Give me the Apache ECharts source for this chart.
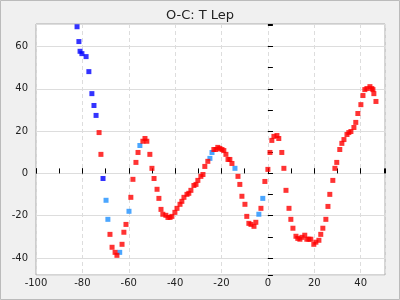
<!DOCTYPE html>
<html>
<head>
<meta charset="utf-8">
<script src="https://cdn.jsdelivr.net/npm/echarts@6/dist/echarts.min.js"></script>
<style>html,body{margin:0;padding:0;background:#f0f0f0}#c{width:400px;height:300px}</style>
</head>
<body>
<div id="c"></div>
<script>
var titleText = 'O-C: T Lep';
var xMin = -100, xMax = 50.5;
var yMin = -48, yMax = 70.6;

var bluePoints = [
  [-82.3, 69.3], [-81.5, 62.3], [-81.0, 57.7], [-80.2, 56.6], [-78.4, 55.2],
  [-77.2, 48.1], [-75.9, 37.7], [-75.0, 32.1], [-74.1, 27.4], [-71.1, -2.4]
];

var lightBluePoints = [
  [-69.8, -12.7], [-69.0, -21.7], [-63.9, -37.3], [-59.9, -17.9], [-55.2, 13.2],
  [-25.0, 7.1], [-24.1, 9.9], [-14.2, 2.4], [-3.9, -19.3], [-2.2, -11.8]
];

var redPoints = [
  [-72.8, 19.3], [-72.0, 9.0], [-68.1, -28.8], [-67.2, -34.9], [-65.9, -37.3],
  [-65.1, -38.7], [-62.9, -33.5], [-62.1, -27.8], [-61.2, -24.1], [-59.1, -11.3],
  [-58.2, -2.8], [-56.9, 5.2], [-56.0, 9.9], [-53.9, 15.2], [-53.0, 16.5],
  [-52.2, 15.2], [-50.9, 9.0], [-50.0, 2.4], [-49.1, -2.4], [-47.8, -7.5],
  [-47.0, -11.8], [-46.1, -17.0], [-45.3, -19.3], [-44.0, -19.8], [-43.1, -20.8],
  [-42.2, -20.8], [-41.4, -20.3], [-40.1, -18.4], [-39.2, -16.5], [-37.9, -14.6],
  [-37.1, -13.2], [-36.2, -11.3], [-34.9, -9.9], [-34.1, -9.4], [-33.2, -8.0],
  [-31.9, -5.7], [-31.0, -5.2], [-30.2, -3.3], [-28.9, -1.4], [-28.0, -0.5],
  [-27.2, 3.3], [-25.9, 5.7], [-23.3, 11.3], [-22.4, 11.3], [-21.6, 12.3],
  [-20.7, 11.8], [-19.8, 11.3], [-19.0, 10.8], [-18.1, 9.0], [-17.2, 6.6],
  [-16.4, 6.6], [-15.5, 4.7], [-12.9, -1.4], [-12.1, -5.2], [-11.2, -10.8],
  [-9.9, -14.6], [-9.1, -20.3], [-8.2, -23.6], [-7.3, -24.1], [-6.0, -25.0],
  [-5.2, -23.1], [-3.0, -16.5], [-1.3, -3.8], [0.0, 1.9], [0.9, 9.9],
  [1.7, 15.6], [2.6, 17.5], [3.9, 17.9], [4.7, 16.5], [6.0, 9.9],
  [6.9, 2.4], [7.8, -8.0], [9.1, -16.5], [9.9, -21.7], [10.8, -25.9],
  [12.1, -29.7], [12.9, -30.7], [13.8, -31.1], [14.7, -30.2], [15.9, -29.2],
  [16.8, -31.1], [17.7, -31.1], [18.5, -31.1], [19.8, -33.5], [20.7, -32.5],
  [22.0, -31.6], [22.8, -28.8], [23.7, -25.9], [25.0, -21.7], [25.9, -15.6],
  [26.7, -9.9], [28.0, -3.3], [28.9, 2.4], [29.7, 5.2], [31.0, 11.3],
  [31.9, 14.2], [32.8, 16.0], [34.1, 18.4], [34.9, 19.3], [35.8, 19.8],
  [37.1, 21.7], [37.9, 24.1], [38.8, 28.3], [40.1, 32.5], [41.0, 36.8],
  [41.8, 39.6], [42.7, 40.1], [44.0, 41.0], [44.8, 40.1], [45.3, 39.6],
  [45.7, 37.7], [46.6, 34.0]
];

var font = 'DejaVu Sans';
var chart = echarts.init(document.getElementById('c'), null, {renderer: 'canvas'});
var tickStyle = {show: true, inside: true, length: 5, lineStyle: {color: '#000', width: 1}};
chart.setOption({
  backgroundColor: '#f0f0f0',
  animation: false,
  title: {
    text: titleText, left: 'center', top: 4,
    textStyle: {fontFamily: font, fontSize: 13, fontWeight: 'normal', color: '#222'}
  },
  graphic: [{
    type: 'rect', z: 100,
    shape: {x: 0.5, y: 0.5, width: 399, height: 299},
    style: {fill: 'none', stroke: '#bbbbbb', lineWidth: 1}
  }],
  grid: {
    left: 36, right: 15, top: 24, bottom: 25,
    show: true, backgroundColor: '#ffffff', borderColor: '#aaaaaa', borderWidth: 1
  },
  xAxis: [{
    type: 'value', min: xMin, max: xMax, interval: 20, position: 'bottom',
    axisLine: {show: false},
    axisTick: tickStyle,
    splitLine: {show: true, lineStyle: {color: '#dddddd', type: [4, 3], width: 1}},
    axisLabel: {showMaxLabel: false, fontFamily: font, fontSize: 10, color: '#222', margin: 3}
  }, {
    type: 'value', min: xMin, max: xMax, interval: 10, position: 'bottom',
    axisLine: {show: false}, axisTick: tickStyle,
    splitLine: {show: false}, axisLabel: {show: false}
  }],
  yAxis: [{
    type: 'value', min: yMin, max: yMax, splitNumber: 6, position: 'left',
    axisLine: {show: false},
    axisTick: tickStyle,
    splitLine: {show: true, lineStyle: {color: '#dddddd', width: 1}},
    axisLabel: {showMinLabel: false, showMaxLabel: false, fontFamily: font, fontSize: 10, color: '#222', margin: 8}
  }, {
    type: 'value', min: yMin, max: yMax, splitNumber: 12, position: 'left',
    axisLine: {show: false}, axisTick: tickStyle,
    splitLine: {show: false}, axisLabel: {show: false}
  }],
  series: [{
    type: 'scatter', data: lightBluePoints, symbol: 'rect', symbolSize: 5,
    itemStyle: {color: '#1e90ff'}, z: 2
  }, {
    type: 'scatter', data: bluePoints, symbol: 'rect', symbolSize: 5,
    itemStyle: {color: '#0000ff'}, z: 3
  }, {
    type: 'scatter', data: redPoints, symbol: 'rect', symbolSize: 5,
    itemStyle: {color: '#ff0000'}, z: 4
  }]
});
</script>
</body>
</html>
